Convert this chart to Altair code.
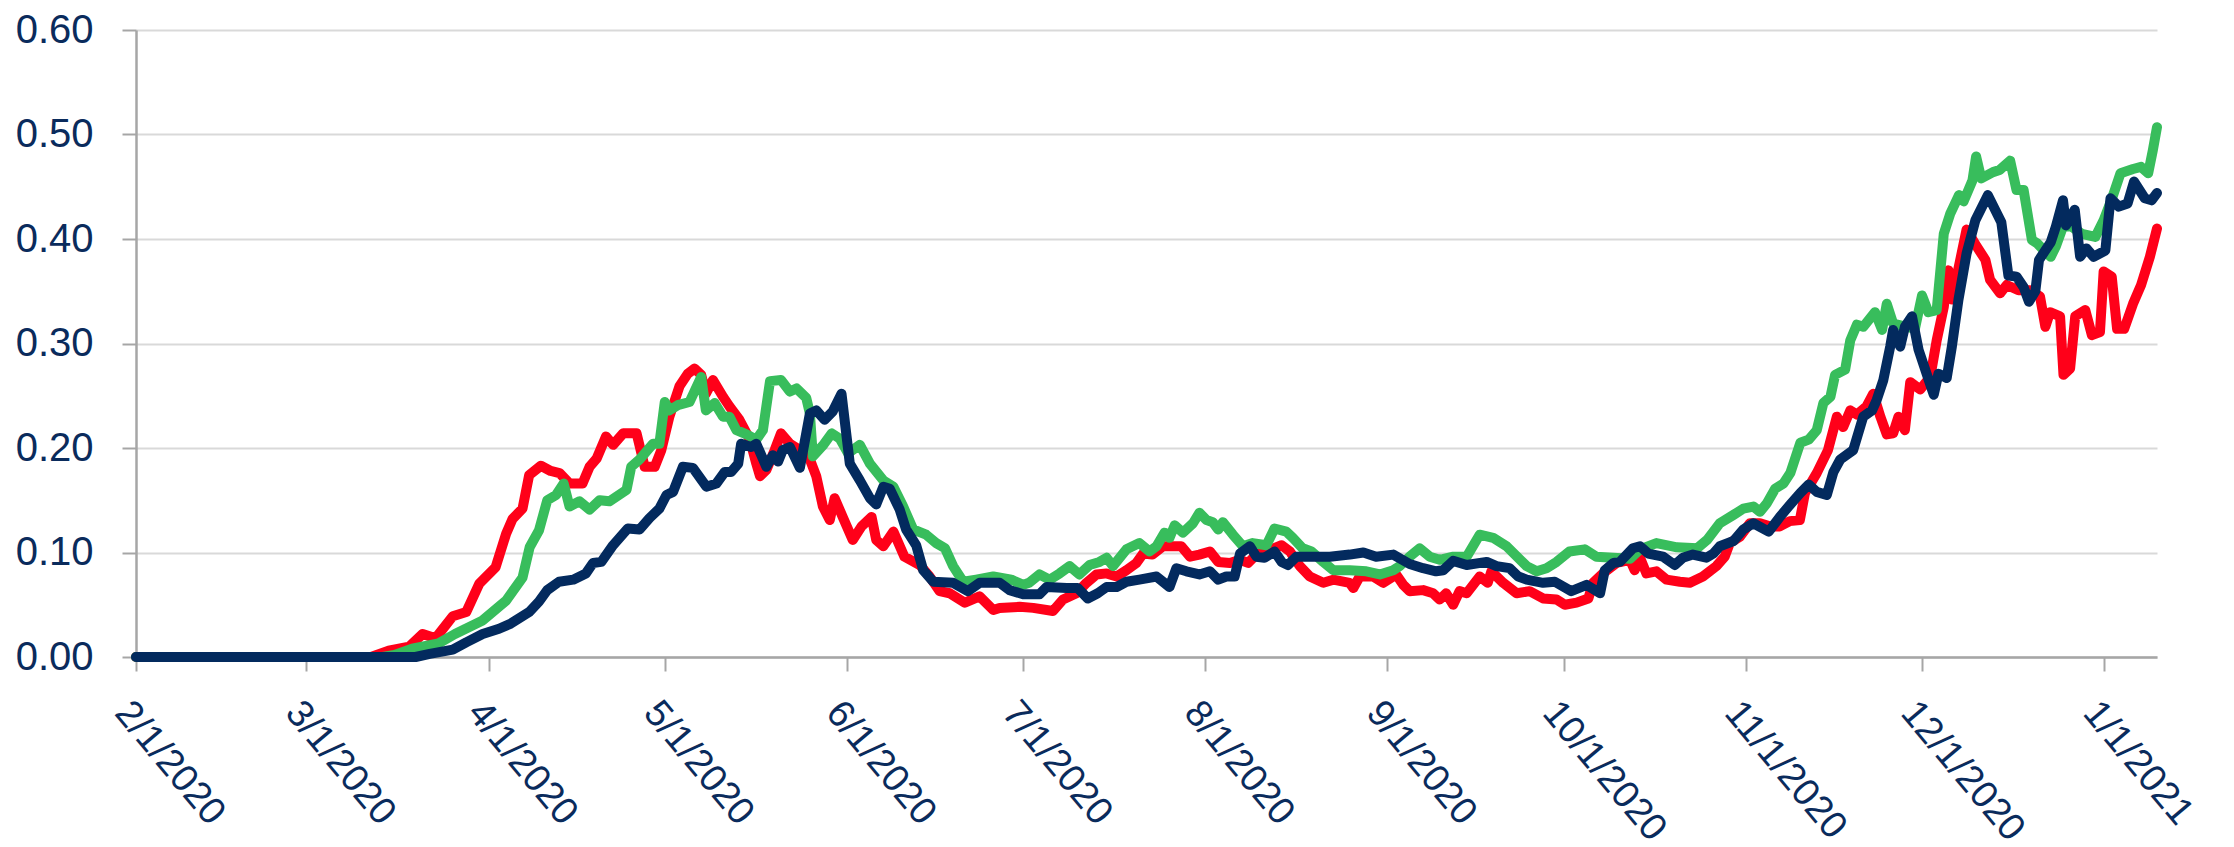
import altair as alt
import pandas as pd

# (days since 2020-02-01, value)
red = [(0, 0.0), (40, 0.0), (43, 0.006), (46.5, 0.010), (48.8, 0.022), (51, 0.018), (53.9, 0.039),
       (56.2, 0.043), (58.4, 0.070), (61.2, 0.086), (63, 0.118), (64.1, 0.132), (65.8, 0.142),
       (66.9, 0.174), (68.9, 0.183), (70.6, 0.178), (72.1, 0.176), (73.8, 0.166), (76, 0.166),
       (77.2, 0.182), (78.4, 0.190), (80, 0.211), (81.2, 0.203), (82.9, 0.214), (85.2, 0.214),
       (86.6, 0.182), (88.3, 0.182), (89.4, 0.198), (90.8, 0.230), (92.5, 0.259), (93.9, 0.271),
       (95.1, 0.276), (96.2, 0.270), (97, 0.252), (98.2, 0.265), (99.9, 0.249), (101, 0.240),
       (102.7, 0.227), (104.5, 0.208), (105.6, 0.185), (106.2, 0.173), (107.3, 0.179), (108.7, 0.198),
       (109.8, 0.214), (111.3, 0.204), (113, 0.198), (114.7, 0.189), (115.8, 0.173), (116.9, 0.144),
       (118.1, 0.131), (118.9, 0.152), (120.3, 0.134), (122, 0.112), (123.5, 0.125), (125.2, 0.134),
       (126, 0.112), (127.2, 0.106), (128.9, 0.120), (130.8, 0.096), (133.4, 0.088), (135.1, 0.077),
       (136.8, 0.063), (138.5, 0.061), (141.1, 0.052), (143.6, 0.058), (145.9, 0.045), (147, 0.047),
       (150.4, 0.048), (152.7, 0.047), (156.1, 0.044), (157.8, 0.055), (160.1, 0.061), (161.8, 0.071),
       (163.5, 0.079), (165.2, 0.080), (166.9, 0.077), (168.6, 0.083), (170.3, 0.090), (171.4, 0.099),
       (173, 0.098), (174.8, 0.106), (177.9, 0.106), (179.4, 0.096), (181, 0.098), (182.8, 0.101),
       (184.2, 0.091), (186.2, 0.090), (187.9, 0.093), (189.3, 0.090), (190.7, 0.098), (192.4, 0.101),
       (195, 0.107), (196.4, 0.101), (198.1, 0.087), (199.8, 0.077), (202.1, 0.071), (203.8, 0.074),
       (206.6, 0.071), (207.2, 0.066), (208.3, 0.077), (210.6, 0.077), (212.3, 0.071), (214.5, 0.079),
       (215.7, 0.069), (216.8, 0.063), (219.1, 0.064), (220.8, 0.061), (221.9, 0.055), (223, 0.061),
       (224.2, 0.050), (225.3, 0.063), (226.5, 0.061), (228.7, 0.077), (230.1, 0.071), (230.7, 0.082),
       (232.7, 0.071), (235, 0.061), (237.2, 0.063), (239.5, 0.056), (241.8, 0.055), (243.2, 0.050),
       (245.2, 0.052), (247.2, 0.056), (248, 0.071), (249.7, 0.080), (252, 0.090), (254.3, 0.093),
       (255.1, 0.083), (256, 0.095), (257.1, 0.080), (258.8, 0.082), (260.5, 0.074), (262.8, 0.072),
       (264.5, 0.071), (266.7, 0.077), (269, 0.087), (270.4, 0.096), (271.3, 0.109), (273, 0.115),
       (274.7, 0.128), (276.4, 0.128), (278.1, 0.125), (279.8, 0.125), (281.5, 0.130), (283.2, 0.131),
       (284.1, 0.157), (286.1, 0.176), (288, 0.198), (289.5, 0.230), (290.6, 0.220), (291.8, 0.236),
       (292.9, 0.232), (294.6, 0.240), (295.7, 0.252), (296.9, 0.230), (298, 0.213), (299.1, 0.214),
       (300, 0.230), (301.1, 0.217), (302, 0.263), (303.7, 0.256), (305.4, 0.268), (306.5, 0.303),
       (307.7, 0.335), (308.5, 0.370), (309.1, 0.342), (309.9, 0.364), (311.6, 0.409), (313.3, 0.393),
       (314.8, 0.380), (315.6, 0.361), (317.3, 0.348), (318.4, 0.356), (320.4, 0.351), (322.4, 0.351),
       (324.1, 0.345), (325, 0.316), (325.8, 0.330), (327.5, 0.326), (328.1, 0.270), (329.2, 0.276),
       (330.1, 0.326), (331.8, 0.332), (332.9, 0.308), (334.3, 0.311), (334.9, 0.369), (336.3, 0.364),
       (337.2, 0.314), (338.4, 0.314), (339.9, 0.338), (341.3, 0.356), (342.8, 0.383), (344, 0.410)]

green = [(0, 0.0), (42, 0.0), (44, 0.002), (47, 0.008), (51.5, 0.013), (54.3, 0.022), (59, 0.035),
         (63, 0.054), (65.8, 0.076), (67, 0.105), (68.6, 0.121), (70, 0.150), (71.5, 0.155),
         (72.8, 0.166), (73.8, 0.144), (75.5, 0.149), (77.2, 0.141), (78.9, 0.150), (80.6, 0.149),
         (83.5, 0.160), (84.3, 0.182), (85.7, 0.189), (88, 0.204), (89.1, 0.204), (90, 0.244),
         (90.8, 0.236), (92.2, 0.241), (94.2, 0.244), (96.2, 0.268), (97, 0.236), (98.5, 0.243),
         (99.9, 0.230), (101, 0.230), (102.2, 0.217), (103.9, 0.213), (105.6, 0.208), (106.7, 0.217),
         (107.9, 0.264), (109.8, 0.265), (111.3, 0.254), (112.4, 0.257), (114.1, 0.248), (114.7, 0.233),
         (115.2, 0.192), (117, 0.203), (118.4, 0.214), (119.8, 0.209), (121.2, 0.195), (123.2, 0.203),
         (124.9, 0.185), (127.2, 0.169), (128.9, 0.163), (130.6, 0.144), (132.3, 0.122), (134.5, 0.117),
         (136.2, 0.109), (137.7, 0.104), (139.1, 0.087), (140.8, 0.072), (143, 0.074), (145.9, 0.077),
         (149, 0.074), (151, 0.069), (152, 0.071), (153.8, 0.079), (155.5, 0.074), (157.2, 0.080),
         (158.9, 0.087), (160.6, 0.079), (162.3, 0.088), (164, 0.091), (165.2, 0.095), (166.3, 0.087),
         (168.6, 0.103), (170.8, 0.109), (172.5, 0.101), (173.7, 0.106), (175.1, 0.119), (175.9, 0.114),
         (176.8, 0.126), (178.2, 0.119), (179.9, 0.128), (181, 0.138), (182.2, 0.131), (183.3, 0.129),
         (184.2, 0.122), (185, 0.129), (186.7, 0.117), (188.4, 0.106), (190.1, 0.109), (192.4, 0.107),
         (193.8, 0.123), (195.8, 0.120), (196.9, 0.114), (198.6, 0.104), (200.1, 0.101), (202.1, 0.091),
         (203.8, 0.083), (206.6, 0.083), (209.4, 0.082), (211.7, 0.079), (214, 0.083), (215.1, 0.087),
         (216.8, 0.096), (218.5, 0.104), (220.2, 0.096), (221.9, 0.093), (224.2, 0.096), (226.5, 0.096),
         (228.7, 0.117), (231, 0.114), (233.3, 0.106), (236.7, 0.087), (238.4, 0.082), (240.1, 0.085),
         (241.8, 0.091), (244, 0.101), (246.6, 0.103), (248.6, 0.096), (251.4, 0.095), (254.3, 0.094),
         (256, 0.103), (258.8, 0.109), (262.3, 0.105), (265.7, 0.104), (267.4, 0.112), (269.6, 0.128),
         (271.9, 0.136), (273.6, 0.142), (275.3, 0.144), (276.4, 0.139), (277.6, 0.147), (279, 0.161),
         (280.4, 0.166), (281.6, 0.176), (283.3, 0.205), (284.7, 0.208), (286.1, 0.217), (287.2, 0.243),
         (288.4, 0.249), (289.2, 0.270), (290.9, 0.275), (291.8, 0.303), (292.9, 0.318), (294, 0.316),
         (296, 0.330), (297.2, 0.313), (298, 0.338), (299.1, 0.319), (301.4, 0.316), (302.8, 0.314),
         (304, 0.346), (305.1, 0.330), (306.5, 0.332), (307.7, 0.405), (308.8, 0.424), (310.3, 0.442),
         (311.1, 0.436), (312.6, 0.456), (313.2, 0.479), (314.1, 0.458), (316.1, 0.464), (317.2, 0.466),
         (319, 0.475), (320.1, 0.447), (321.3, 0.447), (322.7, 0.399), (323.6, 0.396), (324.8, 0.389),
         (325.9, 0.383), (326.8, 0.393), (328, 0.412), (329.4, 0.412), (331.2, 0.405), (333.5, 0.402),
         (334.9, 0.418), (336.4, 0.440), (337.8, 0.463), (339.9, 0.467), (341.3, 0.469), (342.5, 0.463),
         (343.3, 0.485), (344, 0.507)]

navy = [(0, 0.0), (47.6, 0.0), (50, 0.003), (53.9, 0.007), (56.2, 0.014), (59, 0.022), (61.8, 0.027),
        (63.8, 0.032), (66.9, 0.043), (68.6, 0.053), (70, 0.064), (72, 0.072), (74.4, 0.074),
        (76.6, 0.080), (77.8, 0.090), (79.2, 0.091), (81.2, 0.107), (83.7, 0.123), (85.7, 0.122),
        (87.4, 0.133), (89.1, 0.142), (90.3, 0.155), (91.4, 0.158), (93.1, 0.182), (94.8, 0.181),
        (97.1, 0.163), (98.8, 0.166), (100.2, 0.177), (101.3, 0.177), (102.5, 0.185), (103, 0.204),
        (104.7, 0.201), (105.6, 0.204), (107.3, 0.182), (108.4, 0.193), (109.3, 0.187), (110.1, 0.198),
        (111.3, 0.201), (113, 0.181), (114.7, 0.233), (115.8, 0.236), (117.2, 0.227), (118.6, 0.235),
        (120.1, 0.252), (121.5, 0.185), (123.2, 0.169), (124.9, 0.152), (126, 0.146), (127.2, 0.163),
        (128.3, 0.161), (130, 0.141), (131.1, 0.122), (132.8, 0.107), (134, 0.083), (135.7, 0.072),
        (139.1, 0.071), (141.6, 0.063), (143.6, 0.071), (147, 0.071), (148.7, 0.064), (151, 0.060),
        (153.8, 0.060), (155, 0.067), (158.4, 0.066), (160.3, 0.066), (162, 0.056), (163.7, 0.061),
        (165.2, 0.067), (166.9, 0.067), (168.6, 0.072), (170.8, 0.074), (173.7, 0.077), (175.9, 0.067),
        (177.1, 0.085), (178.8, 0.082), (181, 0.079), (182.8, 0.082), (184.2, 0.074), (185.6, 0.077),
        (187, 0.077), (187.9, 0.099), (189.6, 0.106), (190.7, 0.096), (192.1, 0.095), (193.8, 0.101),
        (195, 0.091), (196.1, 0.088), (197.5, 0.096), (201.5, 0.096), (203.2, 0.096), (206.6, 0.098),
        (208.9, 0.100), (211.1, 0.096), (214, 0.098), (216.8, 0.089), (219.1, 0.085), (221.3, 0.082),
        (222.5, 0.083), (224.2, 0.092), (226.5, 0.088), (229.9, 0.091), (231.6, 0.087), (233.8, 0.085),
        (235.3, 0.077), (236.7, 0.074), (239.5, 0.071), (241.5, 0.072), (244.3, 0.063), (246.9, 0.069),
        (249.2, 0.061), (250, 0.083), (251.5, 0.090), (252.6, 0.091), (254.8, 0.104), (256, 0.106),
        (257.4, 0.099), (259.9, 0.096), (261.9, 0.088), (263.3, 0.095), (265, 0.098), (267.3, 0.095),
        (268.5, 0.099), (269.6, 0.106), (271.9, 0.111), (273.6, 0.122), (275.3, 0.128), (277.9, 0.120),
        (279.8, 0.134), (281.6, 0.146), (283.3, 0.157), (284.7, 0.165), (286.1, 0.158), (287.8, 0.155),
        (288.9, 0.177), (290.1, 0.189), (292.3, 0.198), (294, 0.230), (295.5, 0.236), (296.3, 0.246),
        (297.4, 0.265), (298.6, 0.297), (299.1, 0.313), (300.3, 0.297), (301.1, 0.316), (302.3, 0.326),
        (303.4, 0.294), (304.8, 0.271), (306, 0.251), (306.8, 0.271), (308.2, 0.267), (309.1, 0.297),
        (310.2, 0.342), (311.6, 0.386), (313.1, 0.418), (315.2, 0.442), (317.5, 0.416), (318.7, 0.365),
        (320.1, 0.364), (321.3, 0.354), (322.2, 0.340), (323.3, 0.350), (323.9, 0.380), (325.9, 0.397),
        (326.8, 0.412), (328, 0.437), (328.5, 0.413), (330, 0.428), (330.9, 0.383), (332, 0.391),
        (333.2, 0.383), (335.2, 0.389), (336.1, 0.439), (337.5, 0.431), (339, 0.434), (340.1, 0.455),
        (341.9, 0.439), (343.1, 0.437), (344, 0.444)]

series_names = ["red", "green", "navy"]
series_colors = ["#FF0019", "#38BD5C", "#032A5E"]
y_ticks = [0.0, 0.1, 0.2, 0.3, 0.4, 0.5, 0.6]
month_ticks = [(2020, m) for m in range(2, 13)] + [(2021, 1)]

START = pd.Timestamp("2020-02-01")
frames = []
for name, pts in zip(series_names, [red, green, navy]):
    frames.append(pd.DataFrame({
        "date": [(START + pd.Timedelta(hours=round(d * 24))).strftime("%Y-%m-%dT%H:%M:%S") for d, _ in pts],
        "value": [v for _, v in pts],
        "series": name,
        "idx": list(range(len(pts))),
    }))
df = pd.concat(frames, ignore_index=True)

FONT = "Liberation Sans, Arial, sans-serif"
TEXT = "#0A2B5C"

x_enc = alt.X(
    "date:T",
    scale=alt.Scale(domain=[alt.DateTime(year=2020, month=2, date=1),
                            alt.DateTime(year=2021, month=1, date=10)], nice=False),
    axis=alt.Axis(
        values=[alt.DateTime(year=y, month=m, date=1) for y, m in month_ticks],
        format="%-m/%-d/%Y", title=None, grid=False,
        labelAngle=50, labelAlign="left", labelBaseline="top",
        labelPadding=23, tickSize=14, labelFlush=False, labelOverlap=False,
        labelLimit=0, labelFontSize=38,
    ),
)
y_enc = alt.Y(
    "value:Q",
    scale=alt.Scale(domain=[0, 0.6], nice=False),
    axis=alt.Axis(values=y_ticks, format=".2f", title=None, grid=True,
                  gridColor="#D9D9D9", gridWidth=2, tickSize=14, labelPadding=29,
                  labelLimit=0, labelFontSize=40),
)

base = alt.Chart(df).encode(x=x_enc, y=y_enc, order="idx:Q")
layers = [
    base.transform_filter(alt.datum.series == name).mark_line(
        color=col, strokeWidth=10, strokeJoin="round", strokeCap="round")
    for name, col in zip(series_names, series_colors)
]

chart = alt.layer(*layers).properties(
    width=2021, height=627,
    autosize=alt.AutoSizeParams(type="none"),
    padding={"left": 128, "top": 22, "right": 69, "bottom": 190},
).configure_view(stroke=None).configure_axis(
    labelFont=FONT, labelColor=TEXT,
    domainColor="#A6A6A6", domainWidth=2.5,
    tickColor="#A6A6A6", tickWidth=2,
)

chart.save("out.html", embed_options={"renderer": "svg", "actions": False})
